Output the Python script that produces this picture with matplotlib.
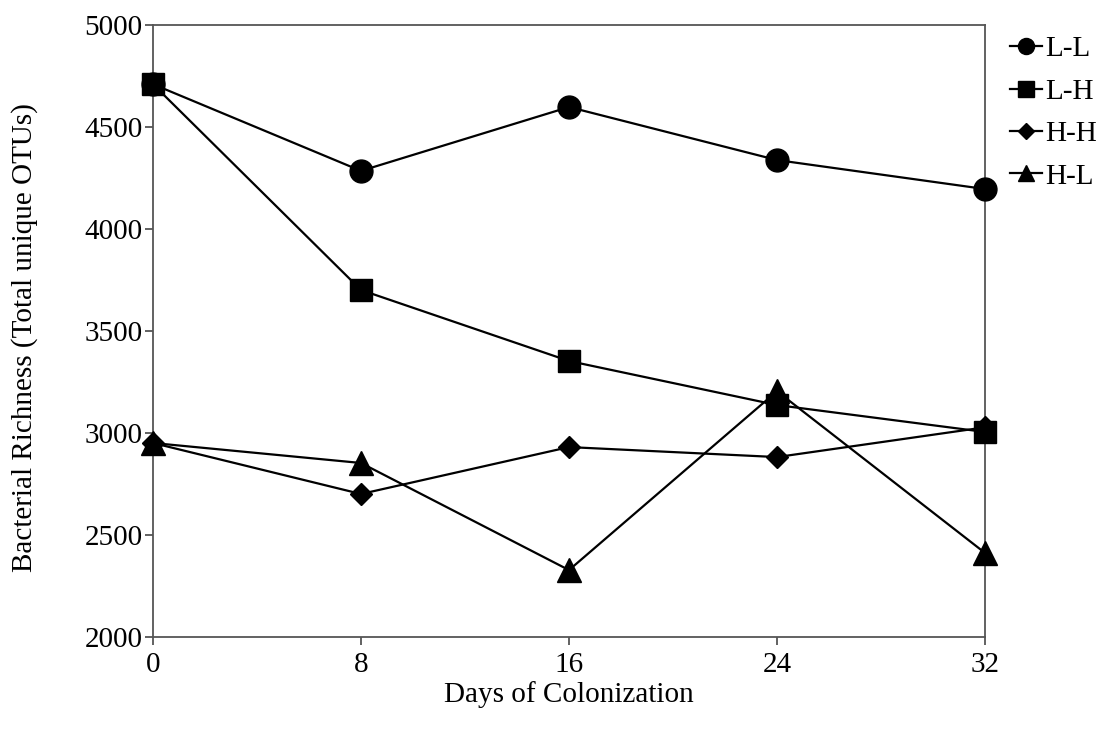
import matplotlib
matplotlib.use("Agg")
import matplotlib.pyplot as plt

plt.rcParams['font.family'] = ['Liberation Serif', 'DejaVu Serif']

days = [0, 8, 16, 24, 32]
ll = [4710, 4285, 4598, 4338, 4196]
lh = [4710, 3701, 3353, 3137, 3005]
hh = [2951, 2701, 2931, 2882, 3028]
hl = [2951, 2853, 2328, 3205, 2412]

fig = plt.figure(figsize=(11.1, 7.32), dpi=100)
ax = fig.add_axes([0.1378, 0.1298, 0.7496, 0.836])

kw = dict(color='black', lw=1.6, clip_on=False)
ax.plot(days, ll, marker='o', ms=16.5, label='L-L', zorder=3, **kw)
ax.plot(days, lh, marker='s', ms=16.5, label='L-H', zorder=5, **kw)
ax.plot(days, hh, marker='D', ms=11.5, label='H-H', zorder=3, **kw)
ax.plot(days, hl, marker='^', ms=17, label='H-L', zorder=4, **kw)

ax.set_xlim(0, 32)
ax.set_ylim(2000, 5000)
ax.set_xticks(days)
ax.set_yticks(range(2000, 5001, 500))

for s in ax.spines.values():
    s.set_color('#555555')
    s.set_linewidth(1.3)
ax.tick_params(direction='out', length=6, width=1.3, color='#555555',
               labelsize=21)
ax.tick_params(axis='y', pad=1.5)
ax.tick_params(axis='x', pad=5)

ax.set_xlabel('Days of Colonization', fontsize=21, labelpad=2)
ax.set_ylabel('Bacterial Richness (Total unique OTUs)', fontsize=21)
ax.yaxis.set_label_coords(-0.138, 0.49)

# legend sits to the right of the plot box
leg = ax.legend(loc='upper left', bbox_to_anchor=(0.995, 1.03), frameon=False,
                fontsize=21, handlelength=1.1, handletextpad=0.1,
                labelspacing=0.55, markerscale=0.7, borderaxespad=0.6)

fig.savefig('out.png', dpi=100)
